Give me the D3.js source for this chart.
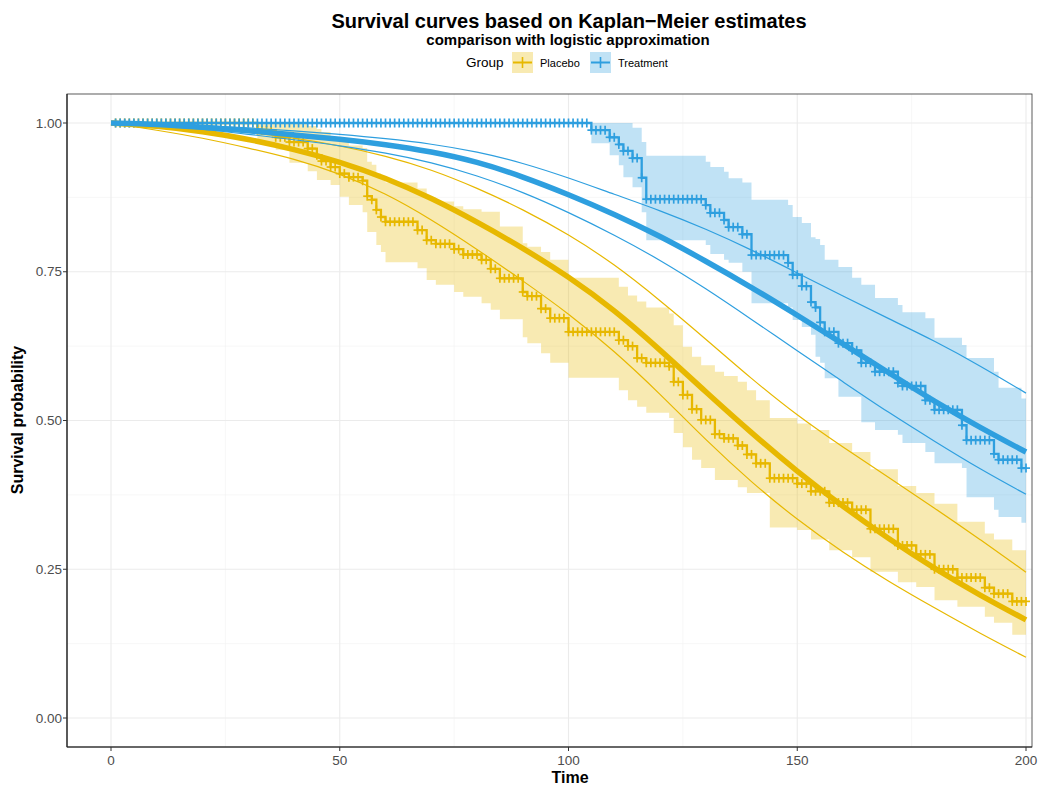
<!DOCTYPE html>
<html><head><meta charset="utf-8">
<script src="https://cdn.jsdelivr.net/npm/d3@7"></script>
<style>body{margin:0;background:#fff}</style>
</head><body>
<svg id="chart" width="1058" height="785"></svg>
<script>
// ---------- DATA ----------
const groups = ["Placebo", "Treatment"];
const colors = ["#E7B800", "#2E9FDF"];
const xTicks = [0, 50, 100, 150, 200];
const yTicks = [0, 0.25, 0.5, 0.75, 1];
const yTickLabels = ["0.00", "0.25", "0.50", "0.75", "1.00"];

// Kaplan-Meier steps (time at which new value starts)
const placeboTime  = [0, 32, 36, 39, 43, 45, 46, 48, 50, 52, 55, 56, 57, 58, 59, 60, 67, 69, 71, 75, 77, 81, 83, 85, 90, 91, 94, 96, 100, 111, 113, 115, 117, 122, 123, 125, 127, 129, 132, 134, 137, 139, 141, 144, 150, 153, 157, 162, 166, 172, 176, 180, 185, 191, 193, 197, 200];
const placeboSurv  = [1, 0.988, 0.976, 0.968, 0.957, 0.946, 0.936, 0.926, 0.915, 0.909, 0.903, 0.877, 0.871, 0.854, 0.842, 0.834, 0.820, 0.803, 0.797, 0.788, 0.779, 0.770, 0.755, 0.739, 0.716, 0.709, 0.688, 0.672, 0.649, 0.635, 0.625, 0.605, 0.597, 0.591, 0.565, 0.543, 0.519, 0.501, 0.477, 0.470, 0.458, 0.443, 0.428, 0.403, 0.394, 0.381, 0.362, 0.350, 0.318, 0.290, 0.275, 0.250, 0.236, 0.219, 0.209, 0.196, 0.196];
const placeboLower = [1, 0.965, 0.955, 0.933, 0.919, 0.904, 0.904, 0.896, 0.876, 0.862, 0.850, 0.817, 0.817, 0.795, 0.783, 0.766, 0.756, 0.736, 0.728, 0.716, 0.708, 0.697, 0.686, 0.670, 0.640, 0.630, 0.613, 0.597, 0.572, 0.551, 0.534, 0.523, 0.513, 0.504, 0.479, 0.455, 0.434, 0.420, 0.400, 0.400, 0.388, 0.378, 0.378, 0.320, 0.316, 0.300, 0.282, 0.270, 0.246, 0.228, 0.220, 0.198, 0.187, 0.170, 0.160, 0.140, 0.140];
const placeboUpper = [1, 1.000, 1.000, 1.000, 0.995, 0.990, 0.985, 0.975, 0.968, 0.962, 0.958, 0.935, 0.930, 0.915, 0.905, 0.900, 0.890, 0.875, 0.868, 0.860, 0.855, 0.851, 0.851, 0.826, 0.798, 0.792, 0.783, 0.770, 0.740, 0.725, 0.710, 0.700, 0.690, 0.680, 0.660, 0.624, 0.607, 0.593, 0.582, 0.575, 0.565, 0.551, 0.534, 0.504, 0.495, 0.484, 0.462, 0.447, 0.418, 0.390, 0.378, 0.360, 0.330, 0.310, 0.300, 0.282, 0.282];

const treatmentTime  = [0, 105, 109, 111, 112, 114, 116, 117, 130, 131, 134, 135, 138, 140, 148, 149, 151, 153, 154, 155, 156, 159, 162, 164, 167, 172, 173, 178, 180, 186, 187, 193, 194, 199, 200];
const treatmentSurv  = [1, 0.988, 0.976, 0.964, 0.953, 0.941, 0.908, 0.872, 0.862, 0.849, 0.837, 0.825, 0.813, 0.778, 0.765, 0.745, 0.726, 0.699, 0.690, 0.665, 0.649, 0.630, 0.618, 0.597, 0.582, 0.563, 0.558, 0.534, 0.518, 0.492, 0.467, 0.444, 0.434, 0.420, 0.420];
const treatmentLower = [1, 0.966, 0.946, 0.929, 0.909, 0.892, 0.850, 0.803, 0.795, 0.780, 0.770, 0.765, 0.750, 0.697, 0.690, 0.669, 0.657, 0.644, 0.607, 0.597, 0.571, 0.540, 0.540, 0.497, 0.484, 0.476, 0.462, 0.447, 0.428, 0.420, 0.371, 0.350, 0.338, 0.328, 0.328];
const treatmentUpper = [1, 1.000, 1.000, 1.000, 1.000, 0.992, 0.968, 0.945, 0.935, 0.926, 0.918, 0.907, 0.900, 0.871, 0.862, 0.842, 0.832, 0.808, 0.805, 0.795, 0.770, 0.758, 0.740, 0.728, 0.706, 0.694, 0.682, 0.672, 0.639, 0.627, 0.605, 0.582, 0.555, 0.537, 0.537];

// censoring marks (time points)
const censorTimes = [1,2,3,4,5,6,7,8,9,10,11,12,13,14,15,16,17,18,19,20,21,22,23,24,25,26,27,28,29,30,31,32,33,34,35,36,37,38,39,40,41,42,43,44,45,46,47,48,49,50,51,52,53,54,55,56,57,58,59,60,61,62,63,64,65,66,67,68,69,70,71,72,73,74,75,76,77,78,79,80,81,82,83,84,85,86,87,88,89,90,91,92,93,94,95,96,97,98,99,100,101,102,103,104,105,106,107,108,109,110,111,112,113,114,115,116,117,118,119,120,121,122,123,124,125,126,127,128,129,130,131,132,133,134,135,136,137,138,139,140,141,142,143,144,145,146,147,148,149,150,151,152,153,154,155,156,157,158,159,160,161,162,163,164,165,166,167,168,169,170,171,172,173,174,175,176,177,178,179,180,181,182,183,184,185,186,187,188,189,190,191,192,193,194,195,196,197,198,199,200];

// logistic approximation curves
const fitTime = [0, 10, 20, 30, 40, 50, 60, 70, 80, 90, 100, 110, 120, 130, 140, 150, 160, 170, 180, 190, 200];
const placeboFit      = [1.000, 0.995, 0.986, 0.973, 0.956, 0.935, 0.908, 0.874, 0.834, 0.790, 0.742, 0.686, 0.619, 0.548, 0.479, 0.414, 0.355, 0.301, 0.251, 0.206, 0.165];
const placeboFitUpper = [1.000, 0.998, 0.993, 0.985, 0.975, 0.962, 0.945, 0.922, 0.891, 0.855, 0.813, 0.763, 0.702, 0.637, 0.570, 0.508, 0.455, 0.404, 0.353, 0.300, 0.245];
const placeboFitLower = [1.000, 0.988, 0.975, 0.958, 0.940, 0.915, 0.882, 0.838, 0.788, 0.735, 0.680, 0.617, 0.545, 0.467, 0.396, 0.333, 0.278, 0.229, 0.185, 0.142, 0.102];
const treatmentFit      = [1.000, 0.998, 0.993, 0.987, 0.980, 0.973, 0.964, 0.952, 0.935, 0.910, 0.880, 0.847, 0.810, 0.768, 0.724, 0.677, 0.629, 0.580, 0.532, 0.488, 0.447];
const treatmentFitUpper = [1.000, 0.999, 0.996, 0.992, 0.987, 0.981, 0.974, 0.965, 0.952, 0.933, 0.908, 0.880, 0.853, 0.822, 0.787, 0.748, 0.709, 0.671, 0.634, 0.592, 0.546];
const treatmentFitLower = [1.000, 0.996, 0.990, 0.981, 0.972, 0.962, 0.950, 0.934, 0.912, 0.884, 0.850, 0.812, 0.770, 0.722, 0.670, 0.617, 0.565, 0.513, 0.465, 0.418, 0.376];

// ---------- CHART ----------
const svg = d3.select("#chart");
const font = "'Liberation Sans', Arial, Helvetica, sans-serif";
const panel = {left: 67, right: 1032, top: 94, bottom: 747};

const x = d3.scaleLinear().domain([0, 200]).range([111, 1026]);
const y = d3.scaleLinear().domain([0, 1]).range([718, 123]);

svg.append("rect").attr("width", 1058).attr("height", 785).attr("fill", "#fff");

// grid
const g = svg.append("g");
const minorX = [25, 75, 125, 175];
const minorY = [0.125, 0.375, 0.625, 0.875];
g.selectAll(".mx").data(minorX).join("line")
  .attr("x1", d => x(d)).attr("x2", d => x(d)).attr("y1", panel.top).attr("y2", panel.bottom)
  .attr("stroke", "#F2F2F2").attr("stroke-width", 0.6);
g.selectAll(".my").data(minorY).join("line")
  .attr("y1", d => y(d)).attr("y2", d => y(d)).attr("x1", panel.left).attr("x2", panel.right)
  .attr("stroke", "#F2F2F2").attr("stroke-width", 0.6);
g.selectAll(".gx").data(xTicks).join("line")
  .attr("x1", d => x(d)).attr("x2", d => x(d)).attr("y1", panel.top).attr("y2", panel.bottom)
  .attr("stroke", "#EBEBEB").attr("stroke-width", 1.1);
g.selectAll(".gy").data(yTicks).join("line")
  .attr("y1", d => y(d)).attr("y2", d => y(d)).attr("x1", panel.left).attr("x2", panel.right)
  .attr("stroke", "#EBEBEB").attr("stroke-width", 1.1);

const kmData = [
  {time: placeboTime, surv: placeboSurv, lower: placeboLower, upper: placeboUpper},
  {time: treatmentTime, surv: treatmentSurv, lower: treatmentLower, upper: treatmentUpper}
];
const fitData = [
  {fit: placeboFit, lo: placeboFitLower, up: placeboFitUpper},
  {fit: treatmentFit, lo: treatmentFitLower, up: treatmentFitUpper}
];

// confidence bands
kmData.forEach((k, i) => {
  const pts = k.time.map((t, j) => ({t, lo: k.lower[j], up: k.upper[j]}));
  const area = d3.area().curve(d3.curveStepAfter)
    .x(d => x(d.t)).y0(d => y(d.lo)).y1(d => y(d.up));
  svg.append("path").attr("d", area(pts))
    .attr("fill", colors[i]).attr("fill-opacity", 0.3).attr("stroke", "none");
});

// KM step lines and censor marks
function stepValue(k, t) {
  let v = k.surv[0];
  for (let j = 0; j < k.time.length; j++) { if (k.time[j] <= t) v = k.surv[j]; }
  return v;
}
kmData.forEach((k, i) => {
  const pts = k.time.map((t, j) => ({t, s: k.surv[j]}));
  const line = d3.line().curve(d3.curveStepAfter).x(d => x(d.t)).y(d => y(d.s));
  svg.append("path").attr("d", line(pts)).attr("fill", "none")
    .attr("stroke", colors[i]).attr("stroke-width", 2.3);
  const cg = svg.append("g").attr("stroke", colors[i]).attr("stroke-width", 1.7);
  censorTimes.forEach(t => {
    const cx = x(t), cy = y(stepValue(k, t));
    cg.append("line").attr("x1", cx).attr("x2", cx).attr("y1", cy - 4.5).attr("y2", cy + 4.5);
    cg.append("line").attr("x1", cx - 4).attr("x2", cx + 4).attr("y1", cy).attr("y2", cy);
  });
});

// logistic approximation curves
fitData.forEach((f, i) => {
  const mk = arr => d3.line().curve(d3.curveBasis).x((d, j) => x(fitTime[j])).y(d => y(d))(arr);
  svg.append("path").attr("d", mk(f.up)).attr("fill", "none").attr("stroke", colors[i]).attr("stroke-width", 1.2);
  svg.append("path").attr("d", mk(f.lo)).attr("fill", "none").attr("stroke", colors[i]).attr("stroke-width", 1.2);
  svg.append("path").attr("d", mk(f.fit)).attr("fill", "none").attr("stroke", colors[i]).attr("stroke-width", 5.5);
});

// panel border
svg.append("rect").attr("x", panel.left).attr("y", panel.top)
  .attr("width", panel.right - panel.left).attr("height", panel.bottom - panel.top)
  .attr("fill", "none").attr("stroke", "#333").attr("stroke-width", 0.8);
svg.append("line").attr("x1", panel.left).attr("x2", panel.left).attr("y1", panel.top).attr("y2", panel.bottom)
  .attr("stroke", "#222").attr("stroke-width", 1.2);
svg.append("line").attr("x1", panel.left).attr("x2", panel.right).attr("y1", panel.bottom).attr("y2", panel.bottom)
  .attr("stroke", "#222").attr("stroke-width", 1.2);

// axes ticks and labels
const ax = svg.append("g").attr("font-family", font);
xTicks.forEach(t => {
  ax.append("line").attr("x1", x(t)).attr("x2", x(t)).attr("y1", panel.bottom).attr("y2", panel.bottom + 4)
    .attr("stroke", "#333").attr("stroke-width", 1);
  ax.append("text").attr("x", x(t)).attr("y", 765).attr("text-anchor", "middle")
    .attr("font-size", 13.5).attr("fill", "#4D4D4D").text(t);
});
yTicks.forEach((t, j) => {
  ax.append("line").attr("x1", panel.left - 4).attr("x2", panel.left).attr("y1", y(t)).attr("y2", y(t))
    .attr("stroke", "#333").attr("stroke-width", 1);
  ax.append("text").attr("x", 62).attr("y", y(t) + 4.7).attr("text-anchor", "end")
    .attr("font-size", 13.5).attr("fill", "#4D4D4D").text(yTickLabels[j]);
});
ax.append("text").attr("x", 570).attr("y", 783).attr("text-anchor", "middle")
  .attr("font-size", 16).attr("font-weight", "bold").attr("fill", "#000").text("Time");
ax.append("text").attr("transform", "translate(23,420) rotate(-90)").attr("text-anchor", "middle")
  .attr("font-size", 16).attr("font-weight", "bold").attr("fill", "#000").text("Survival probability");

// titles
svg.append("text").attr("x", 569).attr("y", 27.5).attr("text-anchor", "middle").attr("font-family", font)
  .attr("font-size", 20).attr("font-weight", "bold").text("Survival curves based on Kaplan\u2212Meier estimates");
svg.append("text").attr("x", 568).attr("y", 45).attr("text-anchor", "middle").attr("font-family", font)
  .attr("font-size", 15).attr("font-weight", "bold").text("comparison with logistic approximation");

// legend
const lg = svg.append("g").attr("font-family", font);
lg.append("text").attr("x", 466).attr("y", 67).attr("font-size", 13.5).attr("fill", "#000").text("Group");
const keyX = [512, 590], labX = [540, 618];
groups.forEach((gname, i) => {
  lg.append("rect").attr("x", keyX[i]).attr("y", 52).attr("width", 21).attr("height", 21)
    .attr("fill", colors[i]).attr("fill-opacity", 0.3);
  lg.append("line").attr("x1", keyX[i] + 1).attr("x2", keyX[i] + 20).attr("y1", 62.5).attr("y2", 62.5)
    .attr("stroke", colors[i]).attr("stroke-width", 2);
  lg.append("line").attr("x1", keyX[i] + 10.5).attr("x2", keyX[i] + 10.5).attr("y1", 57).attr("y2", 68)
    .attr("stroke", colors[i]).attr("stroke-width", 1.6);
  lg.append("text").attr("x", labX[i]).attr("y", 66.5).attr("font-size", 11).attr("fill", "#000").text(gname);
});
</script>
</body></html>
